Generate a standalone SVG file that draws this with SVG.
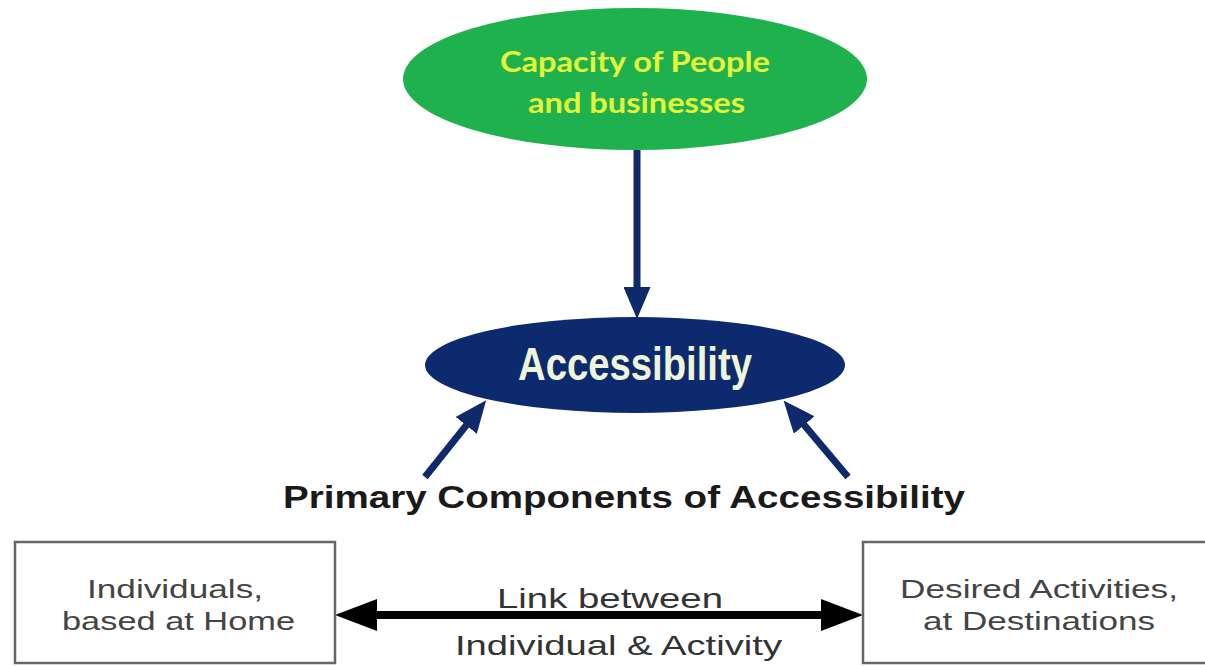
<svg xmlns="http://www.w3.org/2000/svg" width="1205" height="666" viewBox="0 0 1205 666">
  <style>
    .box { fill: #ffffff; stroke: #666666; stroke-width: 2.5; }
    .boxtxt { font-family: "Liberation Sans", Arial, sans-serif; font-size: 26px; fill: #444444; }
    .linktxt { font-family: "Liberation Sans", Arial, sans-serif; font-size: 28px; fill: #333333; }
    .navyline { stroke: #0f2a6b; stroke-width: 7; fill: none; }
    .blackline { stroke: #000000; stroke-width: 8; fill: none; }
    .captxt { font-family: Lato, "Open Sans", sans-serif; font-weight: bold; font-size: 29px; fill: #e4f53a; }
  </style>
  <defs>
    <marker id="navyHead" markerUnits="userSpaceOnUse" markerWidth="32" markerHeight="27" viewBox="0 0 32 27" refX="15" refY="13.5" orient="auto">
      <path d="M0,0 L32,13.5 L0,27 z" fill="#0f2a6b"/>
    </marker>
    <marker id="blackHead" markerUnits="userSpaceOnUse" markerWidth="42" markerHeight="32" viewBox="0 0 42 32" refX="22" refY="16" orient="auto-start-reverse">
      <path d="M0,0 L42,16 L0,32 z" fill="#000000"/>
    </marker>
  </defs>

  <g id="connectors">
    <line class="navyline" x1="637" y1="150" x2="637" y2="302" marker-end="url(#navyHead)"/>
    <line class="navyline" x1="425" y1="477" x2="475.6" y2="413.6" marker-end="url(#navyHead)"/>
    <line class="navyline" x1="848" y1="477" x2="794.5" y2="413.6" marker-end="url(#navyHead)"/>
    <line class="blackline" x1="355" y1="615" x2="843" y2="615" marker-start="url(#blackHead)" marker-end="url(#blackHead)"/>
  </g>

  <g id="capacity">
    <ellipse cx="635" cy="79" rx="232" ry="71" fill="#1fb14e"/>
    <text class="captxt" x="500" y="72" textLength="270" lengthAdjust="spacingAndGlyphs">Capacity of People</text>
    <text class="captxt" x="528" y="113" textLength="217" lengthAdjust="spacingAndGlyphs">and businesses</text>
  </g>

  <g id="accessibility">
    <ellipse cx="635" cy="365" rx="210" ry="48" fill="#0d2a6e"/>
    <text x="518" y="380" font-family="'Liberation Sans', Arial, sans-serif" font-weight="bold" font-size="47" fill="#eef5d8" textLength="234" lengthAdjust="spacingAndGlyphs">Accessibility</text>
  </g>

  <g id="primary-label">
    <text x="283" y="508" font-family="'Liberation Sans', Arial, sans-serif" font-weight="bold" font-size="32" fill="#1a1a1a" textLength="682" lengthAdjust="spacingAndGlyphs">Primary Components of Accessibility</text>
  </g>

  <g id="individuals">
    <rect class="box" x="15" y="542" width="320" height="121"/>
    <text class="boxtxt" x="87" y="598" textLength="176" lengthAdjust="spacingAndGlyphs">Individuals,</text>
    <text class="boxtxt" x="62" y="630" textLength="233" lengthAdjust="spacingAndGlyphs">based at Home</text>
  </g>

  <g id="activities">
    <rect class="box" x="863" y="542" width="360" height="121"/>
    <text class="boxtxt" x="900" y="598" textLength="278" lengthAdjust="spacingAndGlyphs">Desired Activities,</text>
    <text class="boxtxt" x="923" y="630" textLength="232" lengthAdjust="spacingAndGlyphs">at Destinations</text>
  </g>

  <g id="link-label">
    <text class="linktxt" x="497" y="608" textLength="226" lengthAdjust="spacingAndGlyphs">Link between</text>
    <text class="linktxt" x="455" y="655" textLength="327" lengthAdjust="spacingAndGlyphs">Individual &amp; Activity</text>
  </g>
</svg>
